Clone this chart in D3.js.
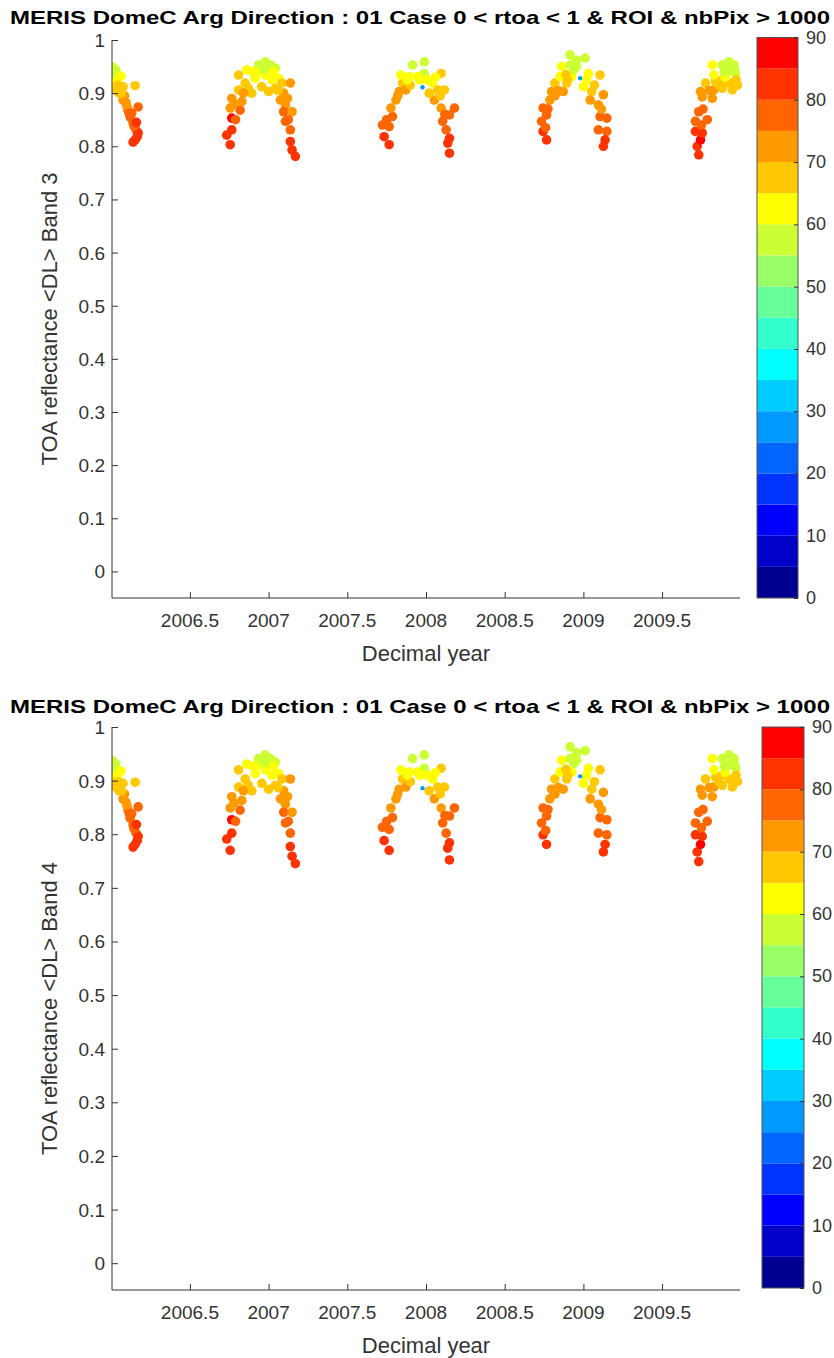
<!DOCTYPE html>
<html><head><meta charset="utf-8">
<script src="https://cdn.jsdelivr.net/npm/d3@7"></script>
<style>body{margin:0;background:#fff;} svg{display:block;} text{font-family:"Liberation Sans",Arial,sans-serif;}</style>
</head><body><svg id="c" width="834" height="1358"></svg>
<script>
const years=[
2006.010,2006.029,2006.010,2006.061,2006.042,2006.003,2006.029,2006.075,2006.152,2006.075,2006.094,2006.107,2006.171,2006.120,2006.139,2006.158,2006.171,2006.152,2006.139,2006.020,2006.050,2006.085,2006.130,2006.145,2006.165,
2006.734,2006.756,2006.766,2006.766,2006.756,2006.766,2006.819,2006.830,2006.809,2006.809,2006.851,2006.862,2006.893,2006.915,2006.936,2006.979,2007.011,2007.043,2006.957,2006.979,2007.021,2007.064,2007.000,2007.043,2007.085,2007.138,2007.096,2007.075,2007.107,2007.096,2007.149,2007.107,2007.138,2007.138,2007.149,2007.170,2006.900,2006.950,2007.000,2006.870,2006.790,
2007.723,2007.734,2007.766,2007.766,2007.787,2007.777,2007.809,2007.830,2007.851,2007.872,2007.840,2007.915,2007.989,2007.989,2007.893,2007.946,2008.010,2007.978,2008.096,2008.042,2008.074,2008.117,2008.053,2008.096,2008.181,2008.149,2008.106,2008.128,2008.149,2008.138,2008.149,2007.900,2007.960,2008.020,
2008.766,2008.744,2008.734,2008.766,2008.744,2008.787,2008.798,2008.819,2008.851,2008.872,2008.894,2008.862,2008.915,2008.957,2009.011,2008.915,2008.957,2008.926,2008.979,2009.032,2009.106,2009.000,2009.053,2009.043,2009.127,2009.095,2009.106,2009.149,2009.095,2009.149,2009.138,2009.127,2008.890,2008.840,2008.760,2009.020,
2009.733,2009.723,2009.744,2009.712,2009.755,2009.712,2009.787,2009.733,2009.755,2009.744,2009.776,2009.819,2009.829,2009.840,2009.819,2009.829,2009.882,2009.925,2009.957,2009.968,2009.914,2009.882,2009.925,2009.979,2009.882,2009.946,2009.900,2009.940,2009.860,
2006.005,2006.040,2006.065,2006.100,2006.115,2006.160,
2006.920,2006.960,2007.030,2006.840,2006.780,2007.060,2007.120,2007.125,
2007.880,2007.820,2008.060,2008.090,2008.120,2007.750,
2008.940,2008.900,2008.820,2009.070,2009.115,2008.775,
2009.960,2009.895,2009.800,2009.760,2009.970,2009.750];
const band3=[
0.949,0.944,0.934,0.932,0.925,0.910,0.906,0.912,0.914,0.887,0.882,0.868,0.874,0.855,0.844,0.831,0.825,0.812,0.808,0.920,0.900,0.895,0.862,0.838,0.818,
0.821,0.803,0.831,0.853,0.872,0.890,0.868,0.884,0.906,0.934,0.919,0.944,0.900,0.928,0.953,0.959,0.953,0.947,0.912,0.934,0.925,0.928,0.903,0.909,0.919,0.919,0.900,0.887,0.878,0.865,0.865,0.847,0.831,0.809,0.793,0.781,0.940,0.945,0.945,0.910,0.850,
0.840,0.818,0.803,0.837,0.856,0.872,0.887,0.903,0.919,0.906,0.934,0.953,0.959,0.937,0.931,0.931,0.925,0.911,0.937,0.919,0.906,0.906,0.887,0.872,0.872,0.859,0.847,0.831,0.815,0.806,0.787,0.915,0.925,0.900,
0.812,0.828,0.847,0.859,0.872,0.887,0.903,0.919,0.931,0.903,0.919,0.950,0.972,0.962,0.966,0.953,0.950,0.931,0.928,0.937,0.934,0.912,0.903,0.887,0.897,0.878,0.856,0.853,0.831,0.828,0.812,0.800,0.935,0.905,0.835,0.925,
0.784,0.800,0.812,0.828,0.825,0.847,0.850,0.865,0.893,0.903,0.919,0.890,0.906,0.922,0.953,0.934,0.953,0.959,0.953,0.937,0.940,0.925,0.919,0.915,0.909,0.906,0.930,0.945,0.915,
0.938,0.915,0.900,0.875,0.862,0.845,
0.940,0.950,0.940,0.900,0.880,0.905,0.890,0.850,
0.925,0.895,0.930,0.895,0.860,0.850,
0.945,0.925,0.895,0.915,0.870,0.870,
0.945,0.940,0.905,0.870,0.925,0.840];
const band4=[
0.937,0.931,0.920,0.918,0.910,0.892,0.888,0.895,0.897,0.866,0.860,0.845,0.851,0.830,0.817,0.802,0.796,0.781,0.776,0.904,0.881,0.875,0.838,0.810,0.788,
0.791,0.770,0.802,0.827,0.849,0.870,0.845,0.863,0.888,0.920,0.903,0.931,0.881,0.913,0.941,0.948,0.941,0.935,0.895,0.920,0.910,0.913,0.884,0.891,0.903,0.903,0.881,0.866,0.856,0.841,0.841,0.821,0.802,0.777,0.759,0.745,0.927,0.932,0.932,0.892,0.824,
0.813,0.788,0.770,0.809,0.831,0.849,0.866,0.884,0.903,0.888,0.920,0.941,0.948,0.923,0.916,0.916,0.910,0.886,0.923,0.903,0.888,0.888,0.866,0.849,0.849,0.834,0.821,0.802,0.784,0.774,0.752,0.898,0.910,0.881,
0.781,0.799,0.821,0.834,0.849,0.866,0.884,0.903,0.916,0.884,0.903,0.938,0.963,0.952,0.956,0.941,0.938,0.916,0.908,0.923,0.920,0.895,0.884,0.866,0.878,0.856,0.831,0.827,0.802,0.799,0.781,0.767,0.921,0.887,0.807,0.910,
0.749,0.767,0.781,0.799,0.796,0.821,0.824,0.841,0.873,0.884,0.903,0.870,0.888,0.906,0.941,0.920,0.941,0.948,0.941,0.923,0.927,0.910,0.903,0.898,0.891,0.888,0.915,0.932,0.898,
0.924,0.898,0.881,0.853,0.838,0.818,
0.927,0.938,0.927,0.881,0.858,0.887,0.870,0.824,
0.910,0.875,0.915,0.875,0.835,0.824,
0.932,0.910,0.875,0.898,0.846,0.846,
0.932,0.927,0.887,0.846,0.910,0.812];
const angle=[
57,57,62,62,62,67,67,67,67,72,72,77,77,77,77,77,82,82,82,62,67,72,77,77,82,
82,82,82,85,72,72,77,72,67,67,67,62,67,62,57,57,57,57,67,62,62,62,67,67,67,72,72,72,72,77,72,77,77,82,82,82,62,57,57,67,77,
77,82,82,77,77,72,72,72,67,72,62,57,57,57,62,62,62,27,67,62,67,67,72,72,77,77,77,77,82,82,82,67,62,67,
82,82,77,77,77,72,72,67,62,72,67,62,57,57,57,57,57,62,27,62,67,62,67,72,72,72,77,77,77,77,82,82,67,72,77,62,
82,82,85,82,82,77,77,77,72,72,67,72,72,67,62,62,57,57,57,57,57,67,67,67,67,67,62,57,67,
57,67,67,72,77,82,
62,57,62,72,72,67,72,77,
62,72,62,67,77,77,
57,67,72,67,72,77,
57,57,72,77,67,77];
const xTicks=[2006.5,2007,2007.5,2008,2008.5,2009,2009.5];
const yTicks=[0,0.1,0.2,0.3,0.4,0.5,0.6,0.7,0.8,0.9,1];
const cbTicks=[0,10,20,30,40,50,60,70,80,90];
const jetColors=["#000090","#0000C8","#0000FF","#0033FF","#0066FF","#0099FF","#00CCFF","#00FFFF","#33FFCC","#66FF99","#99FF66","#CCFF33","#FFFF00","#FFC800","#FF9900","#FF6600","#FF3300","#FF0000"];
const titleText="MERIS DomeC Arg Direction : 01 Case 0 < rtoa < 1 & ROI & nbPix > 1000";
const xDomain=[2006.005,2009.995], yDomain=[-0.05,1], cDomain=[0,90];

const svg=d3.select("#c");
const ink="#333";
const colorScale=d3.scaleQuantize().domain(cDomain).range(jetColors);

const panels=[
 {band:"Band 3",values:band3,top:40,bottom:598,titleY:24,cb:{x0:757,x1:798,y0:37.5,y1:598}},
 {band:"Band 4",values:band4,top:727,bottom:1290,titleY:713,cb:{x0:762,x1:804,y0:727,y1:1288}}
];
const left=112,right=740;
panels.forEach((p,pi)=>{
  const g=svg.append("g");
  const x=d3.scaleLinear().domain(xDomain).range([left,right]);
  const y=d3.scaleLinear().domain(yDomain).range([p.bottom,p.top]);
  g.append("text").attr("x",420).attr("y",p.titleY).attr("text-anchor","middle")
   .attr("font-size",19).attr("font-weight","bold").attr("fill","#000")
   .attr("textLength",820).attr("lengthAdjust","spacingAndGlyphs").text(titleText);
  const cid="clip"+pi;
  g.append("clipPath").attr("id",cid).append("rect").attr("x",left).attr("y",p.top-6).attr("width",right-left+6).attr("height",p.bottom-p.top+6);
  const pts=years.map((t,i)=>({t,v:p.values[i],a:angle[i]}));
  const big=pts.filter(d=>d.a>=40), small=pts.filter(d=>d.a<40);
  const pg=g.append("g").attr("clip-path",`url(#${cid})`);
  pg.selectAll("circle.b").data(big).enter().append("circle").attr("class","b")
    .attr("cx",d=>x(d.t)).attr("cy",d=>y(d.v)).attr("r",4.8).attr("fill",d=>colorScale(d.a));
  pg.selectAll("circle.s").data(small).enter().append("circle").attr("class","s")
    .attr("cx",d=>x(d.t)).attr("cy",d=>y(d.v)).attr("r",2.2).attr("fill",d=>colorScale(d.a));
  const xa=d3.axisTop(x).tickValues(xTicks).tickSize(6).tickFormat("");
  g.append("g").attr("transform",`translate(0,${p.bottom})`).call(xa)
   .call(s=>{s.select(".domain").attr("d",`M${left},0H${right}`).attr("stroke",ink);s.selectAll("line").attr("stroke",ink);});
  g.selectAll("text.xt").data(xTicks).enter().append("text").attr("class","xt")
   .attr("x",d=>x(d)).attr("y",p.bottom+29).attr("text-anchor","middle").attr("font-size",19).attr("fill",ink).text(d=>d);
  const ya=d3.axisRight(y).tickValues(yTicks).tickSize(6).tickFormat("");
  g.append("g").attr("transform",`translate(${left},0)`).call(ya)
   .call(s=>{s.select(".domain").attr("d",`M0,${p.top}V${p.bottom}`).attr("stroke",ink);s.selectAll("line").attr("stroke",ink);});
  g.selectAll("text.yt").data(yTicks).enter().append("text").attr("class","yt")
   .attr("x",left-7).attr("y",d=>y(d)+7).attr("text-anchor","end").attr("font-size",19).attr("fill",ink).text(d=>d);
  g.append("text").attr("x",426).attr("y",p.bottom+63).attr("text-anchor","middle").attr("font-size",22).attr("fill",ink).text("Decimal year");
  g.append("text").attr("transform",`translate(57,${(p.top+p.bottom)/2}) rotate(-90)`).attr("text-anchor","middle")
   .attr("font-size",22).attr("fill",ink).text("TOA reflectance <DL> "+p.band);
  const c=d3.scaleLinear().domain(cDomain).range([p.cb.y1,p.cb.y0]);
  const bands=jetColors.map((col,i)=>({lo:i*5,hi:(i+1)*5,col}));
  g.selectAll("rect.cb").data(bands).enter().append("rect").attr("class","cb")
   .attr("x",p.cb.x0).attr("width",p.cb.x1-p.cb.x0).attr("y",d=>c(d.hi)).attr("height",d=>c(d.lo)-c(d.hi)).attr("fill",d=>d.col);
  g.append("rect").attr("x",p.cb.x0).attr("y",p.cb.y0).attr("width",p.cb.x1-p.cb.x0).attr("height",p.cb.y1-p.cb.y0)
   .attr("fill","none").attr("stroke","#555").attr("stroke-width",1);
  const ca=d3.axisLeft(c).tickValues(cbTicks).tickSize(4).tickFormat("");
  g.append("g").attr("transform",`translate(${p.cb.x1},0)`).call(ca)
   .call(s=>{s.select(".domain").remove();s.selectAll("line").attr("stroke",ink);});
  g.selectAll("text.ct").data(cbTicks).enter().append("text").attr("class","ct")
   .attr("x",p.cb.x1+8).attr("y",d=>c(d)+6).attr("font-size",18).attr("fill",ink).text(d=>d);
});
</script></body></html>
